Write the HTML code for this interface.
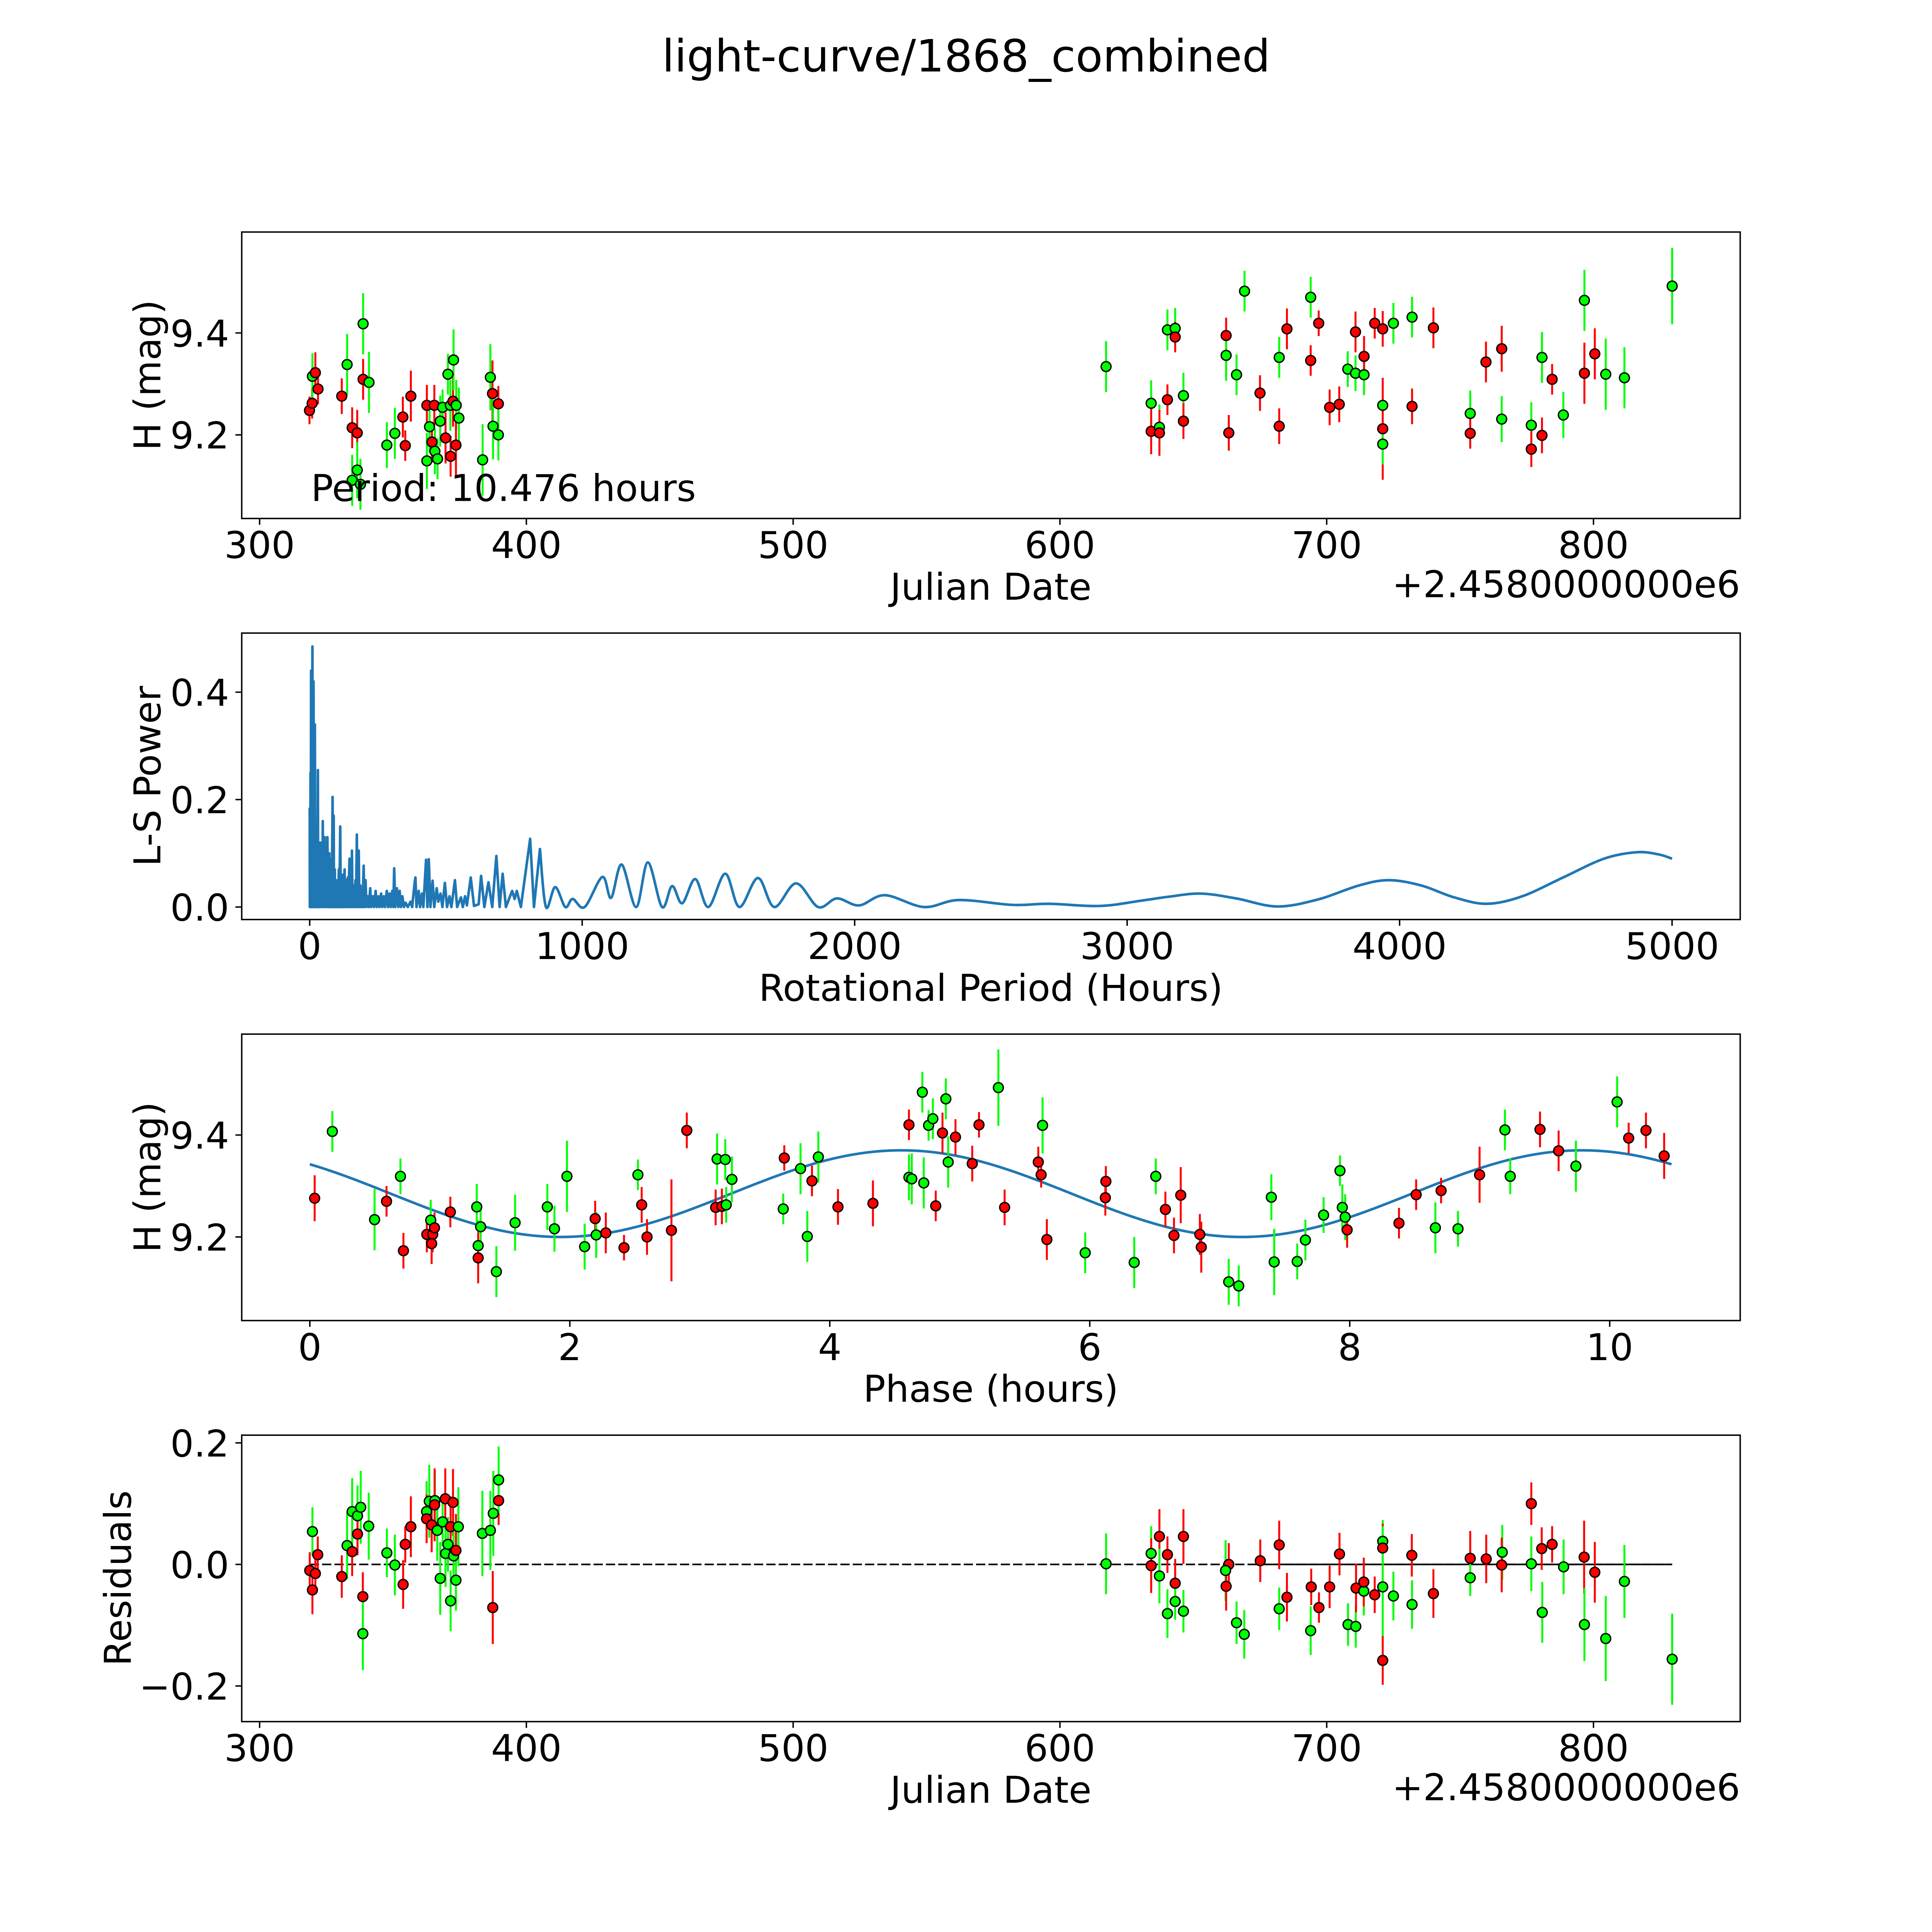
<!DOCTYPE html>
<html>
<head>
<meta charset="utf-8">
<title>light-curve/1868_combined</title>
<style>
html,body{margin:0;padding:0;background:#fff;overflow:hidden;width:5400px;height:5400px;}
svg{display:block;}
text{font-family:"DejaVu Sans","Liberation Sans",sans-serif;fill:#000;}
</style>
</head>
<body>
<svg id="chart" xmlns="http://www.w3.org/2000/svg" width="5400" height="5400" viewBox="0 0 1691 1691">
<rect x="0" y="0" width="1691" height="1691" fill="#ffffff"/>
<text x="783" y="58" font-size="36" text-anchor="middle">light-curve/1868_combined</text>
</svg>
<script>
// ---------- Panel 1: light curve vs Julian Date ----------
const lcJD = [318.7,319.7,319.8,320.9,321.9,330.8,332.8,334.7,336.6,334.7,336.6,337.8,338.8,338.8,341.0,347.7,350.7,353.7,354.6,356.7,362.7,362.7,363.7,364.6,365.5,365.7,366.7,367.7,368.6,369.7,370.6,371.5,371.6,372.5,372.7,373.7,373.6,374.7,383.6,386.5,387.3,387.5,389.5,389.5,
617.3,634.2,634.2,637.3,637.3,640.3,640.3,643.2,643.2,646.3,646.3,662.3,662.3,666.2,663.3,669.2,675.0,682.2,682.2,685.1,694.0,694.0,697.0,701.1,704.7,707.9,710.8,710.8,714.0,714.0,718.0,721.0,721.0,721.0,721.0,725.0,732.0,732.0,740.0,753.8,753.8,759.7,765.6,765.6,776.7,776.7,780.7,780.7,784.5,788.7,796.6,796.6,800.5,804.6,811.6,829.5];
const lcMag = [9.248,9.262,9.315,9.322,9.290,9.276,9.338,9.214,9.204,9.111,9.131,9.103,9.418,9.309,9.303,9.180,9.203,9.235,9.179,9.276,9.258,9.149,9.216,9.186,9.258,9.168,9.153,9.227,9.254,9.194,9.319,9.258,9.158,9.266,9.347,9.258,9.180,9.233,9.151,9.313,9.281,9.217,9.261,9.200,
9.334,9.262,9.207,9.215,9.204,9.269,9.406,9.409,9.392,9.277,9.227,9.395,9.356,9.318,9.204,9.482,9.282,9.352,9.217,9.408,9.470,9.346,9.419,9.254,9.260,9.329,9.321,9.402,9.318,9.354,9.419,9.408,9.258,9.212,9.182,9.419,9.431,9.256,9.410,9.242,9.203,9.343,9.369,9.231,9.219,9.172,9.352,9.199,9.309,9.239,9.464,9.321,9.359,9.319,9.312,9.492];
const lcErr = [0.027,0.030,0.045,0.040,0.030,0.035,0.060,0.040,0.045,0.050,0.055,0.050,0.060,0.040,0.060,0.045,0.050,0.040,0.030,0.050,0.040,0.055,0.050,0.040,0.040,0.045,0.040,0.050,0.035,0.050,0.040,0.050,0.040,0.050,0.060,0.050,0.060,0.060,0.070,0.065,0.065,0.065,0.035,0.050,
0.050,0.045,0.045,0.045,0.045,0.030,0.040,0.040,0.030,0.045,0.035,0.035,0.050,0.040,0.035,0.040,0.035,0.040,0.035,0.040,0.040,0.030,0.025,0.035,0.035,0.035,0.035,0.040,0.040,0.040,0.030,0.035,0.040,0.100,0.040,0.040,0.040,0.035,0.040,0.045,0.030,0.040,0.045,0.045,0.045,0.035,0.050,0.035,0.030,0.045,0.060,0.060,0.050,0.070,0.060,0.075];
const lcBand = ["r","r","g","r","r","r","g","r","r","g","g","g","g","r","g","g","g","r","r","r","r","g","g","r","r","g","g","g","g","r","g","g","r","r","g","g","r","g","g","g","r","g","r","g",
"g","g","r","g","r","r","g","g","r","g","r","r","g","g","r","g","r","g","r","r","g","r","r","r","r","g","g","r","g","r","r","r","g","r","g","g","g","r","r","g","r","r","r","g","g","r","g","r","r","g","g","r","r","g","g","g"];
const jdTicks = [300,400,500,600,700,800];
const magTicks = [9.2,9.4];
const periodText = ["Period: 10.476 hours"];

// ---------- Panel 2: Lomb-Scargle periodogram ----------
const lsPeriod = [0,0.5,2,3,4,5,6,7,8,10,11,12,13,14,15,16,17,19,20,21,22,24,25,27,28,30,31,33,34,36,37,39,40,43,44,46,47,48,49,52,53,55,56,58,59,62,63,65,66,68,70,72,73,76,78,80,81,84,85,88,89,92,94,97,99,102,104,107,109,112,114,117,119,122,124,128,130,134,136,140,142,146,148,152,154,155,157,162,164,168,170,173,175,180,182,186,188,192,194,198,200,205,208,213,217,222,226,232,236,242,246,252,256,262,266,272,276,283,287,293,297,303,307,310,314,320,325,330,335,340,346,352,360,370,376,385,388,392,400,405,412,417,427,432,437,443,451,457,466,472,480,487,496,504,513,520,533,541,555,562,570,577,591,603,620,629,641,656,670,685,697,708,720,743,752,760,775,809,823,845];
const lsPower = [0.185,0.0,0.02,0.25,0.0,0.44,0.05,0.36,0.0,0.485,0.10,0.30,0.0,0.42,0.05,0.20,0.0,0.34,0.02,0.14,0.0,0.12,0.0,0.11,0.01,0.255,0.0,0.12,0.0,0.10,0.02,0.12,0.0,0.09,0.01,0.10,0.0,0.16,0.0,0.08,0.01,0.13,0.0,0.09,0.0,0.12,0.01,0.13,0.0,0.07,0.0,0.10,0.0,0.06,0.0,0.09,0.0,0.205,0.0,0.17,0.0,0.07,0.0,0.05,0.0,0.04,0.0,0.07,0.0,0.15,0.0,0.06,0.0,0.06,0.0,0.07,0.0,0.05,0.0,0.055,0.0,0.09,0.0,0.05,0.0,0.105,0.0,0.04,0.0,0.05,0.0,0.135,0.0,0.105,0.0,0.04,0.0,0.03,0.0,0.077,0.0,0.05,0.0,0.02,0.0,0.035,0.0,0.02,0.0,0.03,0.0,0.02,0.0,0.025,0.0,0.02,0.0,0.03,0.0,0.025,0.0,0.03,0.0,0.072,0.0,0.035,0.0,0.03,0.0,0.02,0.0,0.008,0.0,0.01,0.0,0.045,0.055,0.0,0.03,0.0,0.025,0.0,0.088,0.0,0.089,0.0,0.049,0.0,0.035,0.01,0.025,0.0,0.045,0.0,0.02,0.0,0.05,0.0,0.018,0.0,0.02,0.003,0.055,0.002,0.005,0.058,0.0,0.046,0.0,0.095,0.0,0.062,0.0,0.03,0.015,0.03,0.0,0.127,0.0,0.108];
const lsSmoothPeriod = [845,867,901,938,965,1009,1074,1106,1145,1198,1241,1293,1330,1367,1415,1463,1525,1577,1645,1705,1785,1866,1935,2016,2111,2254,2382,2579,2714,2900,3054,3150,3270,3400,3550,3700,3850,3960,4080,4200,4320,4450,4600,4750,4870,4950,5000];
const lsSmoothPower = [0.108,0.0,0.037,0.0,0.015,0.0,0.056,0.017,0.079,0.0,0.083,0.0,0.039,0.007,0.052,0.0,0.062,0.0,0.054,0.0,0.044,0.0,0.016,0.003,0.022,0.0,0.013,0.004,0.006,0.002,0.012,0.019,0.025,0.016,0.001,0.014,0.040,0.050,0.040,0.018,0.006,0.020,0.055,0.090,0.102,0.098,0.090];
const periodTicks = [0,1000,2000,3000,4000,5000];
const powerTicks = [0.0,0.2,0.4];

// ---------- Panel 3: phase-folded light curve ----------
const phHours = [0.037,0.173,0.498,0.590,0.697,0.720,0.900,0.930,0.945,0.959,0.937,1.081,1.284,1.314,1.295,1.295,1.435,1.579,1.827,1.882,1.978,2.114,2.195,2.203,2.277,2.417,2.524,2.553,2.594,2.782,2.900,3.122,3.133,3.170,3.196,3.203,3.247,3.642,3.650,3.775,3.827,3.863,3.912,4.063,4.332,4.609,4.609,4.631,4.712,4.723,4.760,4.793,4.815,4.867,4.893,4.967,4.911,5.096,5.148,
5.297,5.345,5.604,5.626,5.637,5.670,5.965,6.124,6.120,6.342,6.508,6.582,6.648,6.700,6.847,6.858,7.069,7.146,7.397,7.419,7.596,7.659,7.799,7.925,7.943,7.965,7.980,8.379,8.511,8.659,8.703,8.833,8.999,9.194,9.235,9.464,9.607,9.740,10.057,10.146,10.279,10.419];
const phMag = [9.276,9.407,9.234,9.270,9.319,9.173,9.205,9.233,9.205,9.218,9.187,9.249,9.259,9.220,9.183,9.159,9.132,9.228,9.259,9.216,9.319,9.181,9.236,9.204,9.208,9.179,9.322,9.263,9.200,9.213,9.409,9.258,9.353,9.260,9.352,9.263,9.313,9.255,9.355,9.334,9.201,9.310,9.357,9.259,9.266,9.420,9.317,9.314,9.484,9.306,9.419,9.432,9.261,9.404,9.471,9.396,9.347,9.344,9.420,
9.493,9.258,9.347,9.322,9.419,9.195,9.169,9.309,9.277,9.150,9.319,9.254,9.203,9.282,9.205,9.180,9.112,9.104,9.278,9.151,9.152,9.194,9.243,9.330,9.258,9.239,9.214,9.227,9.283,9.218,9.291,9.216,9.322,9.410,9.319,9.411,9.369,9.339,9.465,9.394,9.409,9.359];
const phErr = [0.045,0.040,0.060,0.030,0.035,0.035,0.035,0.040,0.035,0.030,0.040,0.030,0.045,0.045,0.050,0.050,0.050,0.055,0.045,0.045,0.070,0.045,0.035,0.045,0.040,0.025,0.030,0.035,0.035,0.100,0.035,0.035,0.050,0.035,0.040,0.035,0.045,0.030,0.025,0.050,0.050,0.030,0.050,0.035,0.045,0.030,0.045,0.050,0.040,0.050,0.030,0.040,0.030,0.040,0.040,0.035,0.050,0.035,0.025,
0.075,0.035,0.030,0.025,0.055,0.040,0.040,0.030,0.035,0.050,0.035,0.035,0.035,0.055,0.040,0.050,0.045,0.040,0.045,0.065,0.035,0.040,0.035,0.030,0.045,0.045,0.035,0.030,0.030,0.050,0.025,0.035,0.055,0.040,0.035,0.035,0.040,0.050,0.050,0.030,0.035,0.045];
const phBand = ["r","g","g","r","g","r","r","g","r","r","r","r","g","g","g","r","g","g","g","g","g","g","r","g","r","r","g","r","r","r","r","r","g","r","g","g","g","g","r","g","g","r","g","r","r","r","g","g","g","g","g","g","r","r","g","r","g","r","r",
"g","r","r","r","g","r","g","r","r","g","g","r","r","r","r","r","g","g","g","g","g","g","g","g","g","g","r","r","r","g","r","g","r","g","g","r","r","g","g","r","r","r"];
const phaseTicks = [0,2,4,6,8,10];
const fitParams = [9.285, 0.085, 4.55, 5.238, 10.476]; // mean, amplitude, peak phase, harmonic period, rotation period

// ---------- Panel 4: residuals ----------
const resJD = [319.8,318.8,320.9,319.8,321.8,330.8,332.8,334.7,334.7,336.7,336.7,337.9,338.7,338.7,340.9,347.7,350.7,353.8,354.6,356.7,362.6,362.6,363.6,364.5,365.7,365.6,366.6,367.7,368.6,369.6,369.7,370.6,371.6,371.6,372.5,372.7,373.6,373.6,374.5,383.5,386.5,387.6,387.4,389.6,389.6,
617.3,634.2,634.2,637.3,637.3,640.3,640.3,643.2,643.2,646.3,646.3,663.3,662.1,662.3,666.2,669.1,675.1,682.2,682.2,685.1,694.0,694.2,697.1,701.1,704.8,708.0,710.9,711.0,713.9,713.9,718.0,721.0,721.0,721.0,721.0,725.0,732.0,731.9,740.0,753.8,753.8,759.8,765.8,765.6,776.7,776.7,780.8,780.6,784.5,788.8,796.5,796.6,800.5,804.6,811.6,829.5];
const resVal = [0.054,-0.010,-0.015,-0.042,0.016,-0.020,0.031,0.021,0.087,0.080,0.050,0.094,-0.053,-0.114,0.063,0.019,-0.001,-0.033,0.033,0.062,0.087,0.075,0.104,0.065,0.105,0.098,0.056,-0.023,0.070,0.108,0.018,0.033,0.062,-0.060,0.102,0.014,0.023,-0.026,0.062,0.051,0.056,0.084,-0.071,0.105,0.139,
0.001,0.018,-0.002,0.046,-0.019,0.016,-0.081,-0.031,-0.061,0.046,-0.077,0.000,-0.010,-0.036,-0.096,-0.115,0.006,0.032,-0.073,-0.054,-0.109,-0.037,-0.071,-0.037,0.017,-0.099,-0.102,-0.039,-0.044,-0.029,-0.050,0.038,0.027,-0.037,-0.158,-0.052,-0.066,0.015,-0.048,0.010,-0.022,0.009,0.020,-0.001,0.001,0.100,-0.079,0.026,0.033,-0.004,0.012,-0.099,-0.013,-0.122,-0.028,-0.156];
const resErr = [0.040,0.030,0.030,0.040,0.030,0.035,0.055,0.040,0.055,0.050,0.035,0.060,0.040,0.060,0.055,0.040,0.050,0.040,0.030,0.050,0.050,0.040,0.060,0.045,0.050,0.060,0.050,0.060,0.040,0.050,0.055,0.045,0.050,0.050,0.055,0.040,0.060,0.050,0.065,0.070,0.065,0.070,0.060,0.040,0.055,
0.050,0.045,0.045,0.045,0.045,0.030,0.040,0.040,0.030,0.045,0.035,0.035,0.050,0.040,0.035,0.040,0.035,0.040,0.035,0.040,0.040,0.030,0.025,0.035,0.035,0.035,0.035,0.040,0.040,0.040,0.030,0.035,0.040,0.100,0.040,0.040,0.040,0.035,0.040,0.045,0.030,0.040,0.045,0.045,0.045,0.035,0.050,0.035,0.030,0.045,0.060,0.060,0.050,0.070,0.060,0.075];
const resBand = ["g","r","r","r","r","r","g","r","g","g","r","g","r","g","g","g","g","r","r","r","g","r","g","r","g","r","g","g","g","r","g","g","r","g","r","g","r","g","g","g","g","g","r","r","g",
"g","g","r","r","g","r","g","r","g","r","g","r","g","r","g","g","r","r","g","r","g","r","r","r","r","g","g","r","g","r","r","g","r","g","r","g","g","r","r","r","g","r","g","r","g","r","g","r","r","g","r","g","r","g","g","g"];
const resTicks = [-0.2,0.0,0.2];

// ---------- layout (display units) ----------
const NS = "http://www.w3.org/2000/svg";
const svg = document.getElementById("chart");
const AX_L = 195.9, AX_R = 1410.3, AX_H = 232.15;
const COLORS = {r:"#ff0000", g:"#00ff00"};
const FS = 30;

function el(tag, attrs, parent){
  const e = document.createElementNS(NS, tag);
  for (const k in attrs) e.setAttribute(k, attrs[k]);
  (parent || svg).appendChild(e);
  return e;
}
function fmt(v, d){ const s = v.toFixed(d); return v < 0 ? "\u2212" + s.slice(1) : s; }

function makeAxes(name, top, xmin, xmax, ymin, ymax){
  const g = el("g", {});
  
  
  const sx = v => AX_L + (v - xmin) / (xmax - xmin) * (AX_R - AX_L);
  const sy = v => top + AX_H - (v - ymin) / (ymax - ymin) * AX_H;
  const clipId = name + "-clip";
  const cp = el("clipPath", {id: clipId}, g);
  el("rect", {x: AX_L, y: top, width: AX_R - AX_L, height: AX_H}, cp);
  const plot = el("g", {"clip-path": "url(#" + clipId + ")"}, g);
  
  
  return {g, plot, sx, sy, top};
}
function drawFrame(ax, name){
  const f = el("rect", {x: AX_L, y: ax.top, width: AX_R - AX_L, height: AX_H, fill: "none", stroke: "#000", "stroke-width": 1.16}, ax.g);
  
  
}
function xTicks(ax, name, ticks, dec){
  const bottom = ax.top + AX_H;
  ticks.forEach(t => {
    const x = ax.sx(t);
    const tk = el("line", {x1: x, x2: x, y1: bottom, y2: bottom + 5.1, stroke: "#000", "stroke-width": 1.16}, ax.g);
    
    
    const lb = el("text", {x: x, y: bottom + 32, "font-size": FS, "text-anchor": "middle"}, ax.g);
    
    
    lb.textContent = fmt(t, dec);
  });
}
function yTicks(ax, name, ticks, dec){
  ticks.forEach(t => {
    const y = ax.sy(t);
    const tk = el("line", {x1: AX_L - 5.1, x2: AX_L, y1: y, y2: y, stroke: "#000", "stroke-width": 1.16}, ax.g);
    
    
    const lb = el("text", {x: AX_L - 10.2, y: y + 11, "font-size": FS, "text-anchor": "end"}, ax.g);
    
    
    lb.textContent = fmt(t, dec);
  });
}
function label(ax, name, text, x, y, rot){
  const t = el("text", {x: x, y: y, "font-size": FS, "text-anchor": "middle"}, ax.g);
  if (rot) t.setAttribute("transform", "rotate(-90 " + x + " " + y + ")");
  
  
  t.textContent = text;
  return t;
}
function errPoints(ax, name, xs, ys, es, bands){
  xs.forEach((xv, i) => {
    const x = ax.sx(xv), c = COLORS[bands[i]];
    const bar = el("line", {x1: x, x2: x, y1: ax.sy(ys[i] - es[i]), y2: ax.sy(ys[i] + es[i]), stroke: c, "stroke-width": 1.6}, ax.plot);
    
    
  });
  xs.forEach((xv, i) => {
    const pt = el("circle", {cx: ax.sx(xv), cy: ax.sy(ys[i]), r: 4.0, fill: COLORS[bands[i]], stroke: "#000", "stroke-width": 1.1}, ax.plot);
    
    
  });
}

// ===== Panel 1 =====
const a1 = makeAxes("lightcurve-panel", 188.04, 293.3, 855.0, 9.036, 9.598);
errPoints(a1, "lightcurve", lcJD, lcMag, lcErr, lcBand);
drawFrame(a1, "lightcurve");
xTicks(a1, "lightcurve", jdTicks, 0);
yTicks(a1, "lightcurve", magTicks, 1);
label(a1, "lightcurve-x-axis-title", "Julian Date", 803, 486, false);
label(a1, "lightcurve-y-axis-title", "H (mag)", 130, 304, true);
const off1 = el("text", {x: AX_R, y: 484, "font-size": FS, "text-anchor": "end"}, a1.g);


off1.textContent = "+2.4580000000e6";
const per = el("text", {x: 252, y: 406, "font-size": FS}, a1.g);


per.textContent = periodText[0];

// ===== Panel 2 =====
const a2 = makeAxes("periodogram-panel", 513.06, -249.5, 5250, -0.0233, 0.51);
let d = "";
lsPeriod.forEach((p, i) => { d += (i ? "L" : "M") + a2.sx(p).toFixed(2) + " " + a2.sy(lsPower[i]).toFixed(2) + " "; });
const sp = lsSmoothPeriod.map(p => a2.sx(p)), sw = lsSmoothPower.map(v => a2.sy(v));
for (let i = 0; i < sp.length - 1; i++){
  const x0 = sp[Math.max(i-1,0)], y0 = sw[Math.max(i-1,0)];
  const x1 = sp[i], y1 = sw[i], x2 = sp[i+1], y2 = sw[i+1];
  const x3 = sp[Math.min(i+2, sp.length-1)], y3 = sw[Math.min(i+2, sp.length-1)];
  const c1x = x1 + (x2 - x0)/6, c1y = y1 + (y2 - y0)/6;
  const c2x = x2 - (x3 - x1)/6, c2y = y2 - (y3 - y1)/6;
  d += "C" + c1x.toFixed(2) + " " + c1y.toFixed(2) + " " + c2x.toFixed(2) + " " + c2y.toFixed(2) + " " + x2.toFixed(2) + " " + y2.toFixed(2) + " ";
}
const lsLine = el("path", {d: d, fill: "none", stroke: "#1f77b4", "stroke-width": 2.1, "stroke-linejoin": "round"}, a2.plot);


drawFrame(a2, "periodogram");
xTicks(a2, "periodogram", periodTicks, 0);
yTicks(a2, "periodogram", powerTicks, 1);
label(a2, "periodogram-x-axis-title", "Rotational Period (Hours)", 803, 811, false);
label(a2, "periodogram-y-axis-title", "L-S Power", 130, 629, true);

// ===== Panel 3 =====
const a3 = makeAxes("phase-panel", 838.07, -0.524, 11.004, 9.036, 9.598);
let fd = "";
const NSAMP = 300;
for (let k = 0; k <= NSAMP; k++){
  const p = fitParams[4] * k / NSAMP;
  const m = fitParams[0] + fitParams[1] * Math.cos(2 * Math.PI * (p - fitParams[2]) / fitParams[3]);
  fd += (k ? "L" : "M") + a3.sx(p).toFixed(2) + " " + a3.sy(m).toFixed(2) + " ";
}
const fit = el("path", {d: fd, fill: "none", stroke: "#1f77b4", "stroke-width": 2.1}, a3.plot);


errPoints(a3, "phase", phHours, phMag, phErr, phBand);
drawFrame(a3, "phase");
xTicks(a3, "phase", phaseTicks, 0);
yTicks(a3, "phase", magTicks, 1);
label(a3, "phase-x-axis-title", "Phase (hours)", 803, 1136, false);
label(a3, "phase-y-axis-title", "H (mag)", 130, 954, true);

// ===== Panel 4 =====
const a4 = makeAxes("residuals-panel", 1163.09, 293.3, 855.0, -0.2587, 0.2127);
const zl = el("line", {x1: a4.sx(resJD[1]), x2: a4.sx(resJD[resJD.length-1]), y1: a4.sy(0), y2: a4.sy(0), stroke: "#000", "stroke-width": 1.3, "stroke-dasharray": "7.5 2.5"}, a4.plot);


const zl2 = el("line", {x1: a4.sx(673), x2: a4.sx(resJD[resJD.length-1]), y1: a4.sy(0), y2: a4.sy(0), stroke: "#000", "stroke-width": 1.3}, a4.plot);


errPoints(a4, "residuals", resJD, resVal, resErr, resBand);
drawFrame(a4, "residuals");
xTicks(a4, "residuals", jdTicks, 0);
yTicks(a4, "residuals", resTicks, 1);
label(a4, "residuals-x-axis-title", "Julian Date", 803, 1461, false);
label(a4, "residuals-y-axis-title", "Residuals", 106, 1279, true);
const off4 = el("text", {x: AX_R, y: 1459, "font-size": FS, "text-anchor": "end"}, a4.g);


off4.textContent = "+2.4580000000e6";
</script>
</body>
</html>
